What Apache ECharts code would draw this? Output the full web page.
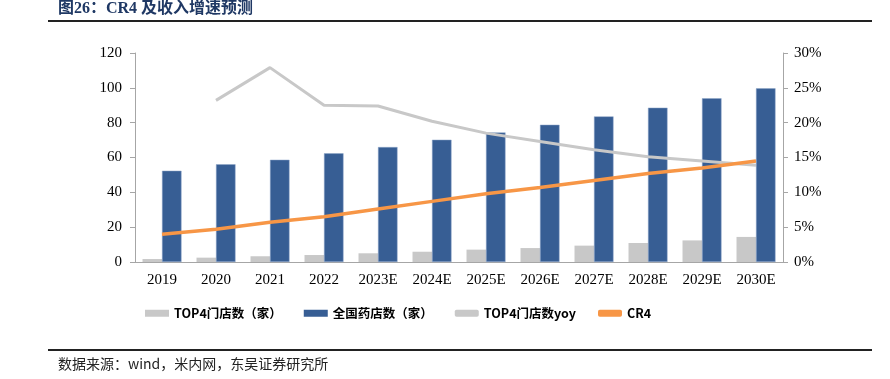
<!DOCTYPE html>
<html>
<head>
<meta charset="utf-8">
<script src="https://cdn.jsdelivr.net/npm/echarts@6/dist/echarts.min.js"></script>
<style>html,body{margin:0;padding:0;background:#fff}#c{width:890px;height:379px}</style>
</head>
<body>
<div id="c"></div>
<script>
const categories = ['2019','2020','2021','2022','2023E','2024E','2025E','2026E','2027E','2028E','2029E','2030E'];
const top4Stores = [1.7, 2.5, 3.3, 4.0, 5.0, 5.9, 7.1, 8.0, 9.4, 10.9, 12.4, 14.4];
const nationalStores = [52.4, 56.1, 58.7, 62.4, 66.0, 70.2, 74.4, 78.8, 83.6, 88.6, 94.0, 99.7];
const top4Yoy = [null, 23.2, 27.9, 22.5, 22.4, 20.2, 18.5, 17.3, 16.1, 15.1, 14.5, 13.9];
const cr4 = [4.0, 4.7, 5.7, 6.5, 7.6, 8.7, 9.8, 10.7, 11.7, 12.7, 13.5, 14.5];
const leftTicks = {min: 0, max: 120, interval: 20};
const rightTicks = {min: 0, max: 30, interval: 5};

const serif = '"Liberation Serif","Times New Roman",serif';
const cjk = '"Noto Sans CJK SC","Noto Sans",sans-serif';
const axisGray = '#a6a6a6';

const chart = echarts.init(document.getElementById('c'));
chart.setOption({
  animation: false,
  backgroundColor: '#fff',
  grid: {left: 135, right: 107, top: 53, bottom: 117},
  graphic: [
    {type: 'text', left: 58, top: 1, style: {text: '图26：CR4 及收入增速预测', font: 'bold 16px ' + serif + ',' + cjk, fill: '#1f3864'}},
    {type: 'rect', shape: {x: 48, y: 20, width: 824, height: 2}, style: {fill: '#222'}},
    {type: 'rect', shape: {x: 48, y: 349, width: 824, height: 2}, style: {fill: '#222'}},
    {type: 'text', left: 58, top: 357, style: {text: '数据来源：wind，米内网，东吴证券研究所', font: '14px ' + cjk, fill: '#222'}}
  ],
  legend: {
    left: 140, top: 302,
    itemWidth: 24, itemHeight: 7, itemGap: 22,
    textStyle: {fontFamily: cjk, fontSize: 12.5, color: '#000', fontWeight: 'bold'},
    data: [
      {name: 'TOP4门店数（家）', icon: 'rect'},
      {name: '全国药店数（家）', icon: 'rect', itemStyle: {borderWidth: 0}},
      {name: 'TOP4门店数yoy', icon: 'roundRect', itemStyle: {color: '#c8c8c8'}},
      {name: 'CR4', icon: 'roundRect', itemStyle: {color: '#f79646'}}
    ]
  },
  xAxis: {
    type: 'category', data: categories,
    axisLine: {lineStyle: {color: axisGray, width: 1}},
    axisTick: {show: false},
    axisLabel: {fontFamily: serif, fontSize: 15, color: '#000', margin: 11, interval: 0}
  },
  yAxis: [
    {
      type: 'value', min: leftTicks.min, max: leftTicks.max, interval: leftTicks.interval,
      axisLine: {show: true, lineStyle: {color: axisGray}},
      axisTick: {show: true, length: 5, lineStyle: {color: axisGray}},
      splitLine: {show: false},
      axisLabel: {fontFamily: serif, fontSize: 15, color: '#000', margin: 13}
    },
    {
      type: 'value', min: rightTicks.min, max: rightTicks.max, interval: rightTicks.interval,
      axisLine: {show: true, lineStyle: {color: axisGray}},
      axisTick: {show: true, length: 5, lineStyle: {color: axisGray}},
      splitLine: {show: false},
      axisLabel: {fontFamily: serif, fontSize: 15, color: '#000', margin: 11, formatter: '{value}%'}
    }
  ],
  series: [
    {name: 'TOP4门店数（家）', type: 'bar', data: top4Stores, barWidth: 19.5, barGap: '0%',
     itemStyle: {color: '#c8c8c8'}},
    {name: '全国药店数（家）', type: 'bar', data: nationalStores, barWidth: 19.5, barGap: '0%',
     itemStyle: {color: '#375e94', borderColor: '#8ea6c8', borderWidth: 0.5}},
    {name: 'TOP4门店数yoy', type: 'line', yAxisIndex: 1, data: top4Yoy, showSymbol: false, symbol: 'none',
     lineStyle: {color: '#c8c8c8', width: 3}, itemStyle: {color: '#c8c8c8'}, z: 3},
    {name: 'CR4', type: 'line', yAxisIndex: 1, data: cr4, showSymbol: false, symbol: 'none',
     lineStyle: {color: '#f79646', width: 3.5}, itemStyle: {color: '#f79646'}, z: 4}
  ]
});
</script>
</body>
</html>
